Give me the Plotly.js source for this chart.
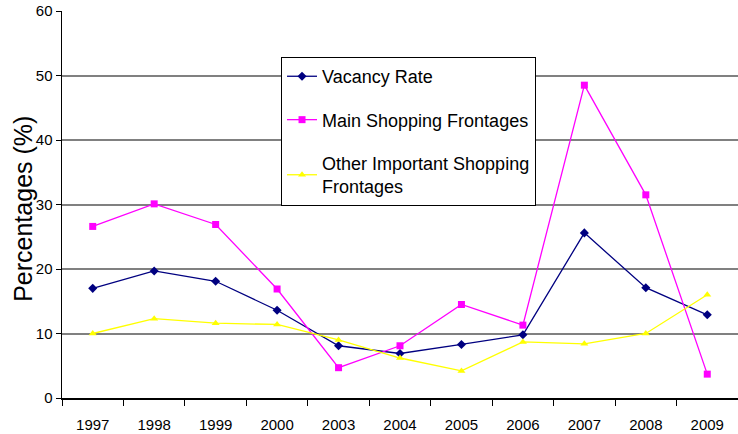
<!DOCTYPE html>
<html>
<head>
<meta charset="utf-8">
<script src="https://cdn.plot.ly/plotly-3.0.1.min.js"></script>
<style>html,body{margin:0;padding:0;background:#fff;}#chart{width:738px;height:434px;}</style>
</head>
<body>
<div id="chart"></div>
<script>
var years = ["1997","1998","1999","2000","2003","2004","2005","2006","2007","2008","2009"];
var vacancyRate = [17.0, 19.7, 18.1, 13.6, 8.1, 6.9, 8.3, 9.8, 25.6, 17.1, 12.9];
var mainShopping = [26.6, 30.1, 26.9, 16.9, 4.7, 8.1, 14.5, 11.3, 48.5, 31.5, 3.7];
var otherImportant = [10.0, 12.3, 11.6, 11.4, 9.0, 6.2, 4.2, 8.7, 8.4, 10.0, 16.0];
var yTicks = [0, 10, 20, 30, 40, 50, 60];
var blackGridTicks = [20, 40];
var yTitle = "Percentages (%)";

var font = "'Liberation Sans', Arial, sans-serif";
var traces = [
  {x: years, y: vacancyRate, name: "Vacancy Rate", type: "scatter", mode: "lines+markers",
   line: {color: "#000080", width: 1.3}, marker: {symbol: "diamond", size: 7, color: "#000080"}, legendgroup: "a"},
  {x: years, y: mainShopping, name: "Main Shopping Frontages", type: "scatter", mode: "lines+markers",
   line: {color: "#FF00FF", width: 1.3}, marker: {symbol: "square", size: 7, color: "#FF00FF"}, legendgroup: "b"},
  {x: years, y: otherImportant, name: "Other Important Shopping<br>Frontages", type: "scatter", mode: "lines+markers",
   line: {color: "#FFFF00", width: 1.3}, marker: {symbol: "triangle-up", size: 7, color: "#FFFF00"}, legendgroup: "c"}
];
var layout = {
  width: 738, height: 434,
  margin: {l: 62, r: 0, t: 11, b: 36},
  paper_bgcolor: "#fff", plot_bgcolor: "#fff",
  font: {family: font, size: 15, color: "#000"},
  showlegend: true,
  legend: {x: 0.324, y: 0.881, xanchor: "left", yanchor: "top", bgcolor: "#fff",
           bordercolor: "#000", borderwidth: 1, font: {family: font, size: 18, color: "#000"},
           tracegroupgap: 17, itemwidth: 30},
  xaxis: {type: "category", categoryorder: "array", categoryarray: years, range: [-0.5, 10.5],
          showline: true, linecolor: "#000", linewidth: 1.5, ticks: "outside", tickson: "boundaries",
          ticklen: 6, tickcolor: "#000", showgrid: false, zeroline: false, ticklabelstandoff: 12,
          tickfont: {family: font, size: 15, color: "#000"}},
  yaxis: {range: [0, 60], tickvals: yTicks, showline: true, linecolor: "#000", linewidth: 1.5,
          ticks: "outside", ticklen: 5, tickcolor: "#000", showgrid: true, gridcolor: "#808080", gridwidth: 2,
          zeroline: false, tickfont: {family: font, size: 15, color: "#000"}},
  yaxis2: {range: [0, 60], overlaying: "y", side: "left", tickvals: blackGridTicks, showticklabels: false,
           ticks: "", showline: false, showgrid: true, gridcolor: "#000", gridwidth: 1, zeroline: false},
  annotations: [{text: yTitle, xref: "paper", yref: "paper", x: -0.057, y: 0.49, xanchor: "center", yanchor: "middle",
                 textangle: -90, showarrow: false, font: {family: font, size: 25, color: "#000"}}]
};
Plotly.newPlot("chart", traces, layout, {displayModeBar: false, staticPlot: true});
</script>
</body>
</html>
